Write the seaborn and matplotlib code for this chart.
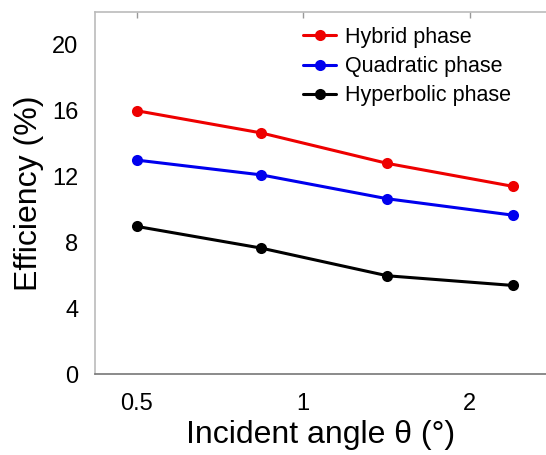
import matplotlib
matplotlib.use("Agg")
import matplotlib.pyplot as plt
import seaborn as sns
import pandas as pd
from matplotlib.ticker import FixedLocator, FixedFormatter, NullLocator

# Incident angles (degrees) and diffraction efficiencies (%)
angles = [0.5, 0.84, 1.42, 2.4]
hybrid = [16.0, 14.65, 12.8, 11.4]
quadratic = [13.0, 12.1, 10.65, 9.65]
hyperbolic = [8.97, 7.65, 5.97, 5.38]

series_names = ["Hybrid phase", "Quadratic phase", "Hyperbolic phase"]
series_colors = ["#ee0000", "#0000ee", "#000000"]

x_ticks = [0.5, 1, 2]
x_tick_labels = ["0.5", "1", "2"]
y_ticks = [0, 4, 8, 12, 16, 20]

df = pd.DataFrame({
    "angle": angles * 3,
    "eff": hybrid + quadratic + hyperbolic,
    "series": sum([[n] * len(angles) for n in series_names], []),
})

sns.set_style("white")
plt.rcParams["font.family"] = ["Liberation Sans", "DejaVu Sans"]
plt.rcParams["text.color"] = "black"
plt.rcParams["axes.labelcolor"] = "black"
plt.rcParams["xtick.labelcolor"] = "black"
plt.rcParams["ytick.labelcolor"] = "black"

fig = plt.figure(figsize=(5.46, 4.55), dpi=100)
ax = fig.add_axes([0.174, 0.178, 0.826, 0.7956])

sns.lineplot(data=df, x="angle", y="eff", hue="series", hue_order=series_names,
             palette=series_colors, marker="o", markersize=8, markeredgewidth=0,
             linewidth=2.2, ax=ax)

ax.set_xscale("log", base=2)
ax.set_xlim(0.42, 2.75)
ax.set_ylim(0, 22)
ax.xaxis.set_major_locator(FixedLocator(x_ticks))
ax.xaxis.set_major_formatter(FixedFormatter(x_tick_labels))
ax.xaxis.set_minor_locator(NullLocator())
ax.set_yticks(y_ticks)

ax.set_xlabel("Incident angle θ (°)", fontsize=23, labelpad=3)
ax.set_ylabel("Efficiency (%)", fontsize=23, labelpad=6)

ax.tick_params(axis="both", direction="in", length=4, width=1, color="#999999",
               labelsize=17, top=True)
ax.tick_params(axis="x", pad=14)
ax.tick_params(axis="y", pad=12)

for side in ["left", "top"]:
    ax.spines[side].set_color("#bbbbbb")
    ax.spines[side].set_linewidth(1.2)
ax.spines["bottom"].set_color("#777777")
ax.spines["bottom"].set_linewidth(1.2)
ax.spines["right"].set_visible(False)

leg = ax.legend(loc="upper left", bbox_to_anchor=(303 / 546, 1 - 27 / 455),
                bbox_transform=fig.transFigure, frameon=False, fontsize=15.5,
                handlelength=1.55, handletextpad=0.4, labelspacing=0.38,
                borderaxespad=0, borderpad=0)
for t in leg.get_texts():
    t.set_color("black")

fig.savefig("out.png", dpi=100)
